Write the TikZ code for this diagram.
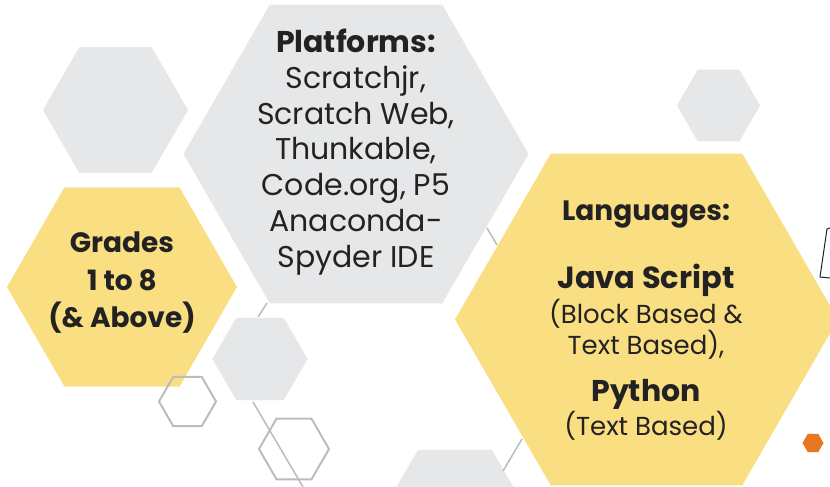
\documentclass[tikz,border=0pt]{standalone}
\usepackage{fontspec}
\setmainfont{Poppins}
\usetikzlibrary{shapes.geometric}
\definecolor{hexyellow}{RGB}{250,222,130}
\definecolor{hexgrey}{RGB}{230,231,232}
\definecolor{linegrey}{RGB}{188,188,188}
\definecolor{hexorange}{RGB}{232,119,34}
\definecolor{txtcol}{RGB}{34,34,34}
\tikzset{
	hex/.style={regular polygon,regular polygon sides=6,inner sep=0pt,outer sep=0pt,minimum size=#1},
	hexY/.style={hex=#1,fill=hexyellow},
	hexG/.style={hex=#1,fill=hexgrey},
	hexO/.style={hex=#1,draw=linegrey,line width=2pt},
	deco/.style={linegrey,line width=1.5pt},
	txt/.style={text=txtcol,align=center,font=\fontsize{30}{35.8}\selectfont},
}
\begin{document}
\begin{tikzpicture}[x=1pt,y=-1pt]
		\useasboundingbox (0,0) rectangle (830,487);
		\clip (0,0) rectangle (830,487);
		\fill[white] (0,0) rectangle (830,487);
		
		\node[hexG=145] (g1) at(115.5,110) {};
		\node[hexG=345] (plat) at(356,154) {};
		\node[hexG=83] (g2) at(718.5,105.5) {};
		\node[hexG=95] (g3) at(260,359) {};
		\node[hexG=148] (g4) at(455,514) {};
		\node[hexY=230] (grades) at(122,287) {};
		\node[hexY=383] (lang) at(646.5,319.5) {};
		\node[hexO=57] (o1) at(187.5,401.5) {};
		\node[hexO=70] (o2) at(294,449) {};
		\node[hex=21,fill=hexorange] (dot) at(813,443) {};
		
		\draw[deco] (267,303) -- (258,317);
		\draw[deco] (253,402) -- (303,487);
		\draw[deco] (487,228) -- (497,245);
		\draw[deco] (503,471) -- (522,439);
		\draw[txtcol,line width=1pt] (830,228) -- (827,229) -- (820,277) -- (830,278);
		
		\node[txt] (platT) at(356,152) {\textbf{Platforms:}\\Scratchjr,\\Scratch Web,\\Thunkable,\\Code.org, P5\\Anaconda-\\Spyder IDE};
		\node[txt,font=\bfseries\fontsize{28}{37.5}\selectfont] (gradesT) at(122,283) {Grades\\1 to 8\\(\& Above)};
		\node[txt,font=\bfseries\fontsize{28}{30}\selectfont] (langT) at(646,215) {Languages:};
		\node[txt,font=\bfseries\fontsize{30.5}{30}\selectfont] (java) at(646,280) {Java Script};
		\node[txt,font=\fontsize{26}{31}\selectfont] (javaN) at(646,329) {(Block Based \&\\Text Based),};
		\node[txt,font=\bfseries\fontsize{30}{30}\selectfont] (py) at(646,394) {Python};
		\node[txt,font=\fontsize{26}{31}\selectfont] (pyN) at(646,426) {(Text Based)};
		\end{tikzpicture}
\end{document}
